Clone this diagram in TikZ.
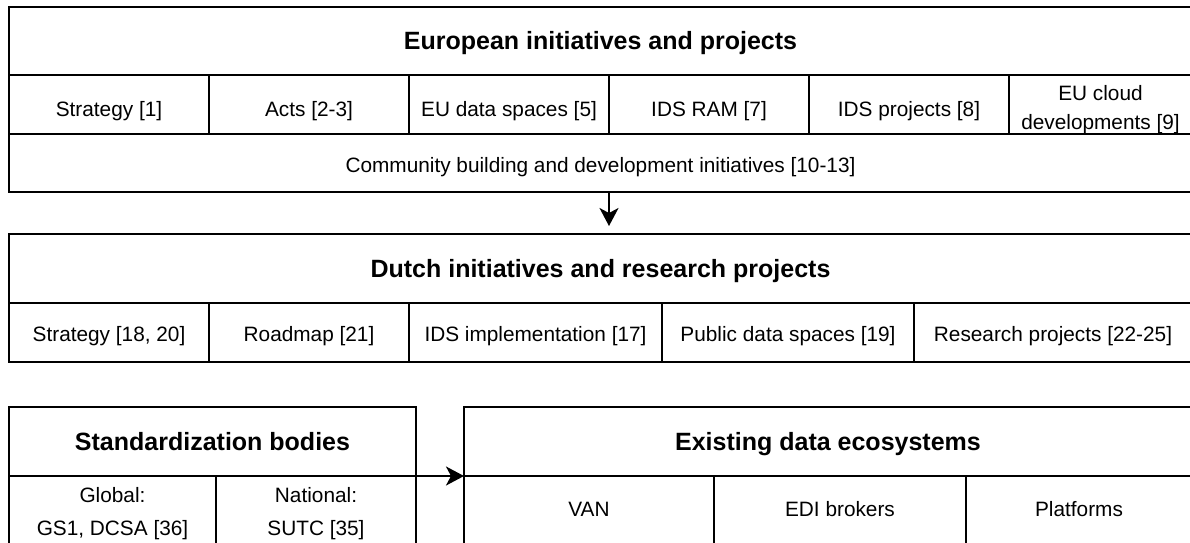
\documentclass[tikz,border=0pt]{standalone}
\usepackage{fontspec}
\setmainfont{Liberation Sans}
\usetikzlibrary{arrows.meta}
\newcommand\cellstrut[2]{\rule[-#2]{0pt}{\dimexpr#1+#2\relax}}
\tikzset{
  cell/.style={draw, line width=2pt, anchor=north west, inner sep=0pt, outer sep=0pt,
    align=center, font=\fontsize{20.8}{30}\selectfont},
  titlecell/.style={cell, font=\fontsize{25}{30}\selectfont\bfseries,
    execute at begin node={\cellstrut{23pt}{6pt}}},
  erow/.style={cell, execute at begin node={\cellstrut{29.4pt}{6pt}}},
  drow/.style={cell, execute at begin node={\cellstrut{24.4pt}{6pt}}},
  crow/.style={cell, execute at begin node={\cellstrut{24.6pt}{6pt}}},
  brow/.style={cell, execute at begin node={\cellstrut{15.5pt}{14.1pt}}},
  arr/.style={line width=2pt, -{Stealth[length=18pt, width=19pt, inset=5pt]}}
}
\begin{document}
\begin{tikzpicture}[x=1pt, y=-1pt]
\useasboundingbox[clip] (0,0) rectangle (1190,542);
% European box
\node[titlecell, minimum width=1183pt, minimum height=68pt] (etitle1) at (9,7) {European initiatives and projects};
\node[erow, minimum width=200pt, minimum height=59pt] (es1) at (9,75) {Strategy [1]};
\node[erow, minimum width=200pt, minimum height=59pt] (es2) at (209,75) {Acts [2-3]};
\node[erow, minimum width=200pt, minimum height=59pt] (es3) at (409,75) {EU data spaces [5]};
\node[erow, minimum width=200pt, minimum height=59pt] (es4) at (609,75) {IDS RAM [7]};
\node[erow, minimum width=200pt, minimum height=59pt] (es5) at (809,75) {IDS projects [8]};
\node[cell, minimum width=183pt, minimum height=59pt, font=\fontsize{20.8}{29.5}\selectfont] (es6) at (1009,75) {\cellstrut{25pt}{0pt}EU cloud\\developments [9]\cellstrut{0pt}{4.5pt}};
\node[crow, minimum width=1183pt, minimum height=58pt] (comm) at (9,134) {Community building and development initiatives [10-13]};
% Dutch box
\node[titlecell, minimum width=1183pt, minimum height=69pt] (dtitle) at (9,234) {Dutch initiatives and research projects};
\node[drow, minimum width=200pt, minimum height=59pt] (d1) at (9,303) {Strategy [18, 20]};
\node[drow, minimum width=200pt, minimum height=59pt] (d2) at (209,303) {Roadmap [21]};
\node[drow, minimum width=253pt, minimum height=59pt] (d3) at (409,303) {IDS implementation [17]};
\node[drow, minimum width=252pt, minimum height=59pt] (d4) at (662,303) {Public data spaces [19]};
\node[drow, minimum width=278pt, minimum height=59pt] (d5) at (914,303) {Research projects [22-25]};
% Standardization bodies
\node[titlecell, minimum width=407pt, minimum height=69pt] (stitle) at (9,407) {Standardization bodies};
\node[cell, minimum width=207pt, minimum height=80pt, font=\fontsize{20.8}{33}\selectfont] (s1) at (9,476) {\cellstrut{15.5pt}{0pt}Global:\\GS1, DCSA [36]\cellstrut{0pt}{10.5pt}};
\node[cell, minimum width=200pt, minimum height=80pt, font=\fontsize{20.8}{33}\selectfont] (s2) at (216,476) {\cellstrut{15.5pt}{0pt}National:\\SUTC [35]\cellstrut{0pt}{10.5pt}};
% Existing data ecosystems
\node[titlecell, minimum width=728pt, minimum height=69pt] (xtitle) at (464,407) {Existing data ecosystems};
\node[brow, minimum width=250pt, minimum height=80pt] (x1) at (464,476) {VAN};
\node[brow, minimum width=252pt, minimum height=80pt] (x2) at (714,476) {EDI brokers};
\node[brow, minimum width=226pt, minimum height=80pt] (x3) at (966,476) {Platforms};
% connectors
\draw[arr, shorten >=8pt] (comm.south -| es3.south east) -- (dtitle.north -| es3.south east);
\draw[arr] (stitle.south east) -- (xtitle.south west);
\end{tikzpicture}
\end{document}
